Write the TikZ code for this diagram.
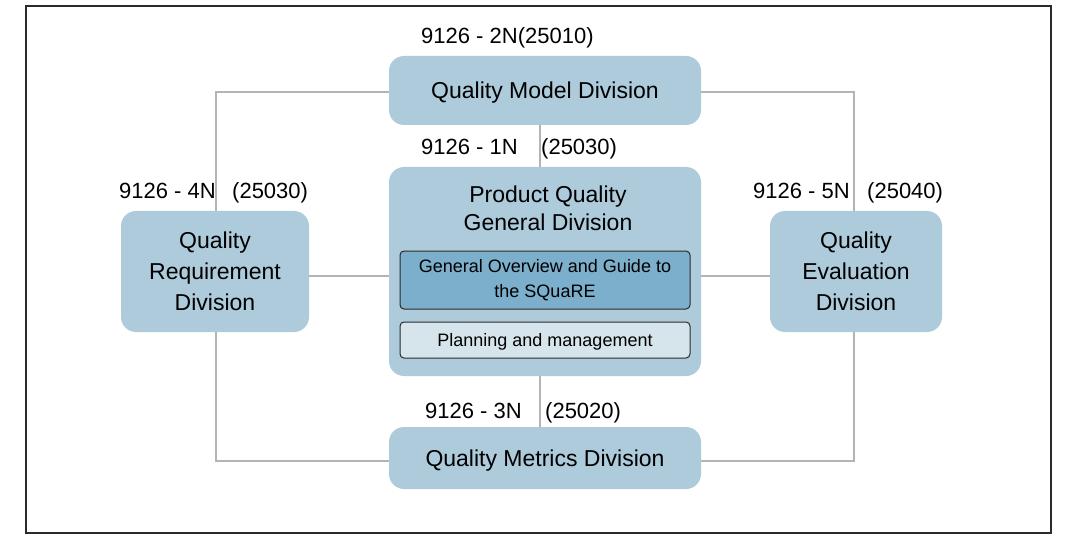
\documentclass[tikz,border=0pt]{standalone}
\usepackage{fontspec}
\setmainfont{Liberation Sans}
\usetikzlibrary{backgrounds}
\definecolor{boxfill}{HTML}{ADCBDB}
\definecolor{ovfill}{HTML}{7BAFCB}
\definecolor{plfill}{HTML}{D6E4EB}
\definecolor{linegray}{HTML}{B4B4B4}
\definecolor{framec}{HTML}{2A2A2A}
\begin{document}
\begin{tikzpicture}[x=1pt,y=-1pt,
  division/.style={fill=boxfill, rounded corners=15pt, inner sep=0pt, align=center,
                   font=\fontsize{23}{31}\selectfont},
  subbox/.style={draw=framec, line width=1pt, rounded corners=4pt, inner sep=0pt,
                 align=center, minimum width=290pt, font=\fontsize{18}{25}\selectfont},
  conn/.style={draw=linegray, line width=2.5pt},
  lbl/.style={font=\fontsize{22}{26}\selectfont, inner sep=0pt, anchor=base west}]
\useasboundingbox (0,0) rectangle (1065,540);
\draw[framec, line width=2pt] (26,6) rectangle (1051,533);

% division boxes
\node[division, minimum width=312pt, minimum height=69pt, text depth=0pt] (model) at (545,90.5) {Quality Model Division};
\node[division, minimum width=312pt, minimum height=209pt] (prod) at (545,271.5) {};
\node[font=\fontsize{23}{28}\selectfont, align=center, inner sep=0pt] (prodtitle) at (548,208.5) {Product Quality\\General Division};
\node[subbox, fill=ovfill, minimum height=58pt] (overview) at (545,280) {General Overview and Guide to\\the SQuaRE};
\node[subbox, fill=plfill, minimum height=36pt, text depth=0pt] (planning) at (545,340) {Planning and management};
\node[division, minimum width=188pt, minimum height=121pt] (req) at (215,271.5) {Quality\\Requirement\\Division};
\node[division, minimum width=172pt, minimum height=121pt] (eval) at (856,271.5) {Quality\\Evaluation\\Division};
\node[division, minimum width=312pt, minimum height=62pt, text depth=0pt] (metrics) at (545,458) {Quality Metrics Division};

% connectors
\coordinate (tl) at (216,92);
\coordinate (tr) at (854,92);
\coordinate (bl) at (216,461);
\coordinate (br) at (854,461);
\coordinate (mid) at (540,276);
\begin{scope}[on background layer]
\draw[conn] (model.west |- tl) -- (tl) -- (tl |- req.north);
\draw[conn] (model.east |- tr) -- (tr) -- (tr |- eval.north);
\draw[conn] (tl |- req.south) -- (bl) -- (bl -| metrics.west);
\draw[conn] (tr |- eval.south) -- (br) -- (br -| metrics.east);
\draw[conn] (req.east |- mid) -- (prod.west |- mid);
\draw[conn] (prod.east |- mid) -- (eval.west |- mid);
\draw[conn] (mid |- model.south) -- (mid |- prod.north);
\draw[conn] (mid |- prod.south) -- (mid |- metrics.north);
\end{scope}

% labels
\node[lbl] (l2) at (421,43.5) {9126 - 2N(25010)};
\node[lbl] (l1a) at (421,154.5) {9126 - 1N};
\node[lbl] (l1b) at (541,154.5) {(25030)};
\node[lbl] (l4a) at (119,198.5) {9126 - 4N};
\node[lbl] (l4b) at (232,198.5) {(25030)};
\node[lbl] (l5a) at (753,198.5) {9126 - 5N};
\node[lbl] (l5b) at (867,198.5) {(25040)};
\node[lbl] (l3a) at (425,418.5) {9126 - 3N};
\node[lbl] (l3b) at (545,418.5) {(25020)};
\end{tikzpicture}
\end{document}
